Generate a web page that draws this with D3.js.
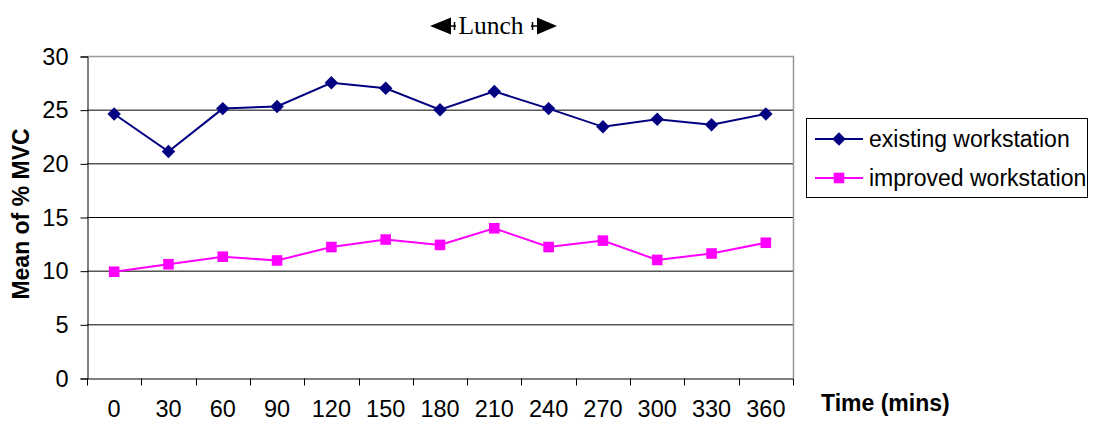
<!DOCTYPE html>
<html>
<head>
<meta charset="utf-8">
<script src="https://cdn.jsdelivr.net/npm/d3@7/dist/d3.min.js"></script>
<style>
  html, body { margin: 0; padding: 0; background: #fff; }
  svg { display: block; }
</style>
</head>
<body>
<svg id="chart" width="1096" height="423"></svg>
<script>
// Time points (minutes) along the working day
const times = ["0", "30", "60", "90", "120", "150", "180", "210", "240", "270", "300", "330", "360"];
// Mean %MVC per time point
const existingWorkstation = [24.6, 21.1, 25.1, 25.3, 27.5, 27.0, 25.0, 26.7, 25.1, 23.4, 24.1, 23.6, 24.6];
const improvedWorkstation = [9.9, 10.6, 11.3, 10.95, 12.2, 12.9, 12.4, 13.95, 12.2, 12.8, 11.0, 11.6, 12.6];
const yTicks = [0, 5, 10, 15, 20, 25, 30];
const seriesNames = ["existing workstation", "improved workstation"];

const svg = d3.select("#chart");
const plot = { left: 87, right: 793, top: 56, bottom: 378 };

const x = d3.scaleBand().domain(times).range([plot.left, plot.right]).padding(0);
const y = d3.scaleLinear().domain([0, 30]).range([plot.bottom, plot.top]);

const sans = "Arial, 'Liberation Sans', sans-serif";

// Horizontal gridlines
svg.append("g").selectAll("line")
  .data(yTicks.filter(d => d > 0 && d < 30))
  .join("line")
  .attr("x1", plot.left).attr("x2", plot.right)
  .attr("y1", d => y(d) + 0.5).attr("y2", d => y(d) + 0.5)
  .attr("stroke", "#000").attr("stroke-width", 1);

// Top and right frame of the plot area
svg.append("path")
  .attr("d", `M${plot.left},${plot.top + 0.5}H${plot.right + 0.5}V${plot.bottom}`)
  .attr("fill", "none").attr("stroke", "#999").attr("stroke-width", 1.5);

// Y axis
const yAxis = d3.axisLeft(y).tickValues(yTicks).tickSize(7).tickPadding(12);
const gy = svg.append("g").attr("transform", `translate(${plot.left + 0.5},0.5)`).call(yAxis);
gy.select(".domain").attr("stroke", "#000");
gy.selectAll(".tick line").attr("stroke", "#000");
gy.selectAll(".tick text")
  .attr("font-family", sans).attr("font-size", 23.5).attr("fill", "#000");

// X axis: ticks between categories, labels centred on each category
const xAxis = d3.axisBottom(x).tickSize(0).tickPadding(0);
const gx = svg.append("g").attr("transform", `translate(0,${plot.bottom + 0.5})`).call(xAxis);
gx.select(".domain").attr("stroke", "#000");
gx.selectAll(".tick text")
  .attr("dy", null).attr("y", 38)
  .attr("font-family", sans).attr("font-size", 23.5).attr("fill", "#000");
const boundaries = times.map(t => x(t)).concat([x.range()[1]]);
gx.append("g").selectAll("line")
  .data(boundaries)
  .join("line")
  .attr("x1", d => Math.round(d) + 0.5).attr("x2", d => Math.round(d) + 0.5)
  .attr("y1", 0).attr("y2", 7)
  .attr("stroke", "#000");

// Axis titles
svg.append("text")
  .attr("transform", `translate(29,214) rotate(-90)`)
  .attr("text-anchor", "middle")
  .attr("font-family", sans).attr("font-weight", "bold").attr("font-size", 23)
  .text("Mean of % MVC");

svg.append("text")
  .attr("x", 821).attr("y", 411)
  .attr("font-family", sans).attr("font-weight", "bold").attr("font-size", 23)
  .text("Time (mins)");

// Lunch marker above the plot
const lunch = svg.append("g");
lunch.append("text")
  .attr("x", 491).attr("y", 34)
  .attr("text-anchor", "middle")
  .attr("font-family", "'Times New Roman', 'Liberation Serif', serif").attr("font-size", 25.5)
  .text("Lunch");
lunch.append("path").attr("d", "M430,26 L451,17.5 L451,34.5 Z").attr("fill", "#000");
lunch.append("path").attr("d", "M451,26 H456 M454.5,22 V30").attr("stroke", "#000").attr("stroke-width", 1.5);
lunch.append("path").attr("d", "M557,26 L537,17.5 L537,34.5 Z").attr("fill", "#000");
lunch.append("path").attr("d", "M531,26 H537 M532.5,22 V30").attr("stroke", "#000").attr("stroke-width", 1.5);

// Series
const cx = t => x(t) + x.bandwidth() / 2;
const line = d3.line().x(d => cx(d.t)).y(d => y(d.v));
const diamond = d3.symbol().type(d3.symbolDiamond2).size(115);
const square = d3.symbol().type(d3.symbolSquare).size(112);

const series = [
  { name: seriesNames[0], values: existingWorkstation, color: "#000080", symbol: diamond },
  { name: seriesNames[1], values: improvedWorkstation, color: "#ff00ff", symbol: square }
];

series.forEach(s => {
  const pts = times.map((t, i) => ({ t, v: s.values[i] }));
  svg.append("path")
    .datum(pts)
    .attr("d", line)
    .attr("fill", "none").attr("stroke", s.color).attr("stroke-width", 2);
  svg.append("g").selectAll("path")
    .data(pts)
    .join("path")
    .attr("transform", d => `translate(${cx(d.t)},${y(d.v)})`)
    .attr("d", s.symbol)
    .attr("fill", s.color);
});

// Legend
const legend = svg.append("g");
legend.append("rect")
  .attr("x", 806.5).attr("y", 118.5).attr("width", 281).attr("height", 79)
  .attr("fill", "#fff").attr("stroke", "#000").attr("stroke-width", 1);
series.forEach((s, i) => {
  const ly = 139 + i * 39;
  legend.append("line")
    .attr("x1", 815).attr("x2", 863).attr("y1", ly).attr("y2", ly)
    .attr("stroke", s.color).attr("stroke-width", 2);
  legend.append("path")
    .attr("transform", `translate(839,${ly})`)
    .attr("d", s.symbol)
    .attr("fill", s.color);
  legend.append("text")
    .attr("x", 869).attr("y", ly + 8)
    .attr("font-family", sans).attr("font-size", 23)
    .text(s.name);
});
</script>
</body>
</html>
